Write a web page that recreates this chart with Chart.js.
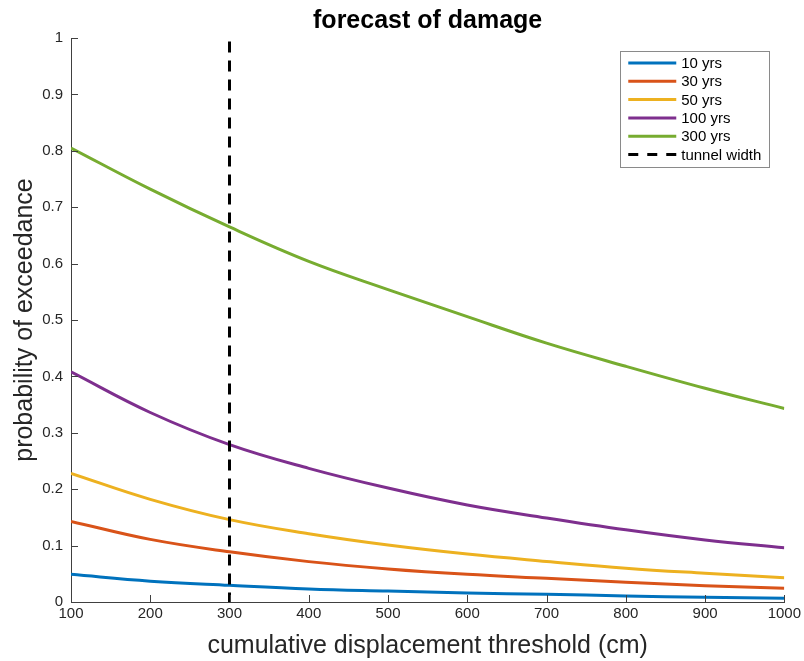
<!DOCTYPE html>
<html lang="en">
<head>
    <meta charset="UTF-8">
    <title>forecast of damage</title>
    <style>
        html, body { margin: 0; padding: 0; background: #fff; }
        #wrap { width: 804px; height: 661px; }
    </style>
</head>
<body>
    <div id="wrap"><canvas id="myChart"></canvas></div>

    <script src="https://cdn.jsdelivr.net/npm/chart.js@4.4.1/dist/chart.umd.min.js"></script>
    <script>
        // cumulative displacement threshold (cm)
        const thresholds = [100, 200, 300, 400, 500, 600, 700, 800, 900, 1000]
        // probability of exceedance
        const yrs10  = [0.049, 0.037, 0.0295, 0.023, 0.0193, 0.016, 0.0137, 0.0107, 0.0085, 0.0067]
        const yrs30  = [0.143, 0.111, 0.089, 0.0716, 0.0586, 0.049, 0.042, 0.035, 0.029, 0.0245]
        const yrs50  = [0.228, 0.182, 0.146, 0.121, 0.101, 0.085, 0.072, 0.060, 0.051, 0.043]
        const yrs100 = [0.408, 0.336, 0.279, 0.237, 0.202, 0.172, 0.149, 0.128, 0.110, 0.096]
        const yrs300 = [0.805, 0.732, 0.665, 0.604, 0.554, 0.506, 0.459, 0.418, 0.379, 0.343]
        const seriesNames = ['10 yrs', '30 yrs', '50 yrs', '100 yrs', '300 yrs']
        const seriesColors = ['#0072BD', '#D95319', '#EDB120', '#7E2F8E', '#77AC30']
        const tunnelWidth = 300
        const axisGray = '#404040'
        const textGray = '#262626'

        Chart.defaults.font.family = '"Liberation Sans", Arial, Helvetica, sans-serif'

        const series = [yrs10, yrs30, yrs50, yrs100, yrs300]
        const datasets = series.map((vals, i) => ({
            label: seriesNames[i],
            data: thresholds.map((t, j) => ({ x: t, y: vals[j] })),
            borderColor: seriesColors[i],
            backgroundColor: seriesColors[i],
            borderWidth: 3,
            pointRadius: 0,
            tension: 0.4,
            fill: false
        }))
        datasets.push({
            label: 'tunnel width',
            data: [{ x: tunnelWidth, y: 1 }, { x: tunnelWidth, y: 0 }],
            borderColor: '#000',
            backgroundColor: '#000',
            borderWidth: 3,
            borderDash: [11, 8],
            borderDashOffset: 15.6,
            pointRadius: 0,
            order: -1
        })

        // matlab style ticks pointing into the axes
        const inwardTicks = {
            id: 'inwardTicks',
            afterDatasetsDraw(chart) {
                const { ctx, chartArea, scales: { x, y } } = chart
                ctx.save()
                ctx.strokeStyle = axisGray
                ctx.lineWidth = 1
                ctx.beginPath()
                x.ticks.forEach(t => {
                    const px = Math.round(x.getPixelForValue(t.value)) + 0.5
                    ctx.moveTo(px, chartArea.bottom)
                    ctx.lineTo(px, chartArea.bottom - 7)
                })
                y.ticks.forEach(t => {
                    const py = Math.round(y.getPixelForValue(t.value)) + 0.5
                    ctx.moveTo(chartArea.left, py)
                    ctx.lineTo(chartArea.left + 7, py)
                })
                ctx.stroke()
                ctx.restore()
            }
        }

        // legend box inside the axes, top right
        const boxLegend = {
            id: 'boxLegend',
            afterDraw(chart) {
                const { ctx, chartArea } = chart
                const rowH = 18.3
                const sets = chart.data.datasets
                ctx.save()
                ctx.font = '15px ' + Chart.defaults.font.family
                const textW = Math.max(...sets.map(d => ctx.measureText(d.label).width))
                const w = 8 + 48 + 5 + textW + 8
                const h = 12 + rowH * (sets.length - 1) + 12
                const left = chartArea.right - 15 - w
                const top = chartArea.top + 13
                ctx.fillStyle = '#fff'
                ctx.fillRect(left, top, w, h)
                ctx.strokeStyle = '#8a8a8a'
                ctx.lineWidth = 1
                ctx.strokeRect(Math.round(left) + 0.5, Math.round(top) + 0.5, Math.round(w), Math.round(h))
                sets.forEach((d, i) => {
                    const cy = top + 12 + i * rowH
                    ctx.beginPath()
                    ctx.strokeStyle = d.borderColor
                    ctx.lineWidth = 3
                    ctx.setLineDash(d.borderDash ? [10, 9] : [])
                    ctx.moveTo(left + 8, cy)
                    ctx.lineTo(left + 56, cy)
                    ctx.stroke()
                    ctx.setLineDash([])
                    ctx.fillStyle = '#000'
                    ctx.textBaseline = 'middle'
                    ctx.textAlign = 'left'
                    ctx.fillText(d.label, left + 61, cy + 1)
                })
                ctx.restore()
            }
        }

        const ctx = document.getElementById('myChart').getContext('2d')
        const chart = new Chart(ctx, {
            type: 'line',
            data: { datasets: datasets },
            options: {
                responsive: true,
                maintainAspectRatio: false,
                animation: false,
                layout: { padding: { left: 0, right: 18, top: 0, bottom: 0 } },
                plugins: {
                    legend: { display: false },
                    tooltip: { enabled: false },
                    title: {
                        display: true,
                        text: 'forecast of damage',
                        color: '#000',
                        fullSize: false,
                        font: { size: 25, weight: 'bold' },
                        padding: { top: 6, bottom: 2 }
                    }
                },
                scales: {
                    x: {
                        type: 'linear',
                        min: 100,
                        max: 1000,
                        grid: { display: false, drawTicks: false },
                        border: { display: true, color: axisGray, width: 1 },
                        ticks: {
                            stepSize: 100,
                            autoSkip: false,
                            maxRotation: 0,
                            padding: 3,
                            color: textGray,
                            font: { size: 15 },
                            callback: v => String(v)
                        },
                        title: {
                            display: true,
                            text: 'cumulative displacement threshold (cm)',
                            color: textGray,
                            font: { size: 25 },
                            padding: { top: 0, bottom: 0 }
                        },
                        afterFit: s => { s.height = 59 }
                    },
                    y: {
                        min: 0,
                        max: 1,
                        grid: { display: false, drawTicks: false },
                        border: { display: true, color: axisGray, width: 1 },
                        ticks: {
                            stepSize: 0.1,
                            padding: 8,
                            color: textGray,
                            font: { size: 15 },
                            callback: v => String(Math.round(v * 10) / 10)
                        },
                        title: {
                            display: true,
                            text: 'probability of exceedance',
                            color: textGray,
                            font: { size: 25 },
                            padding: { top: 10, bottom: 0 }
                        },
                        afterFit: s => { s.width = 71 }
                    }
                }
            },
            plugins: [inwardTicks, boxLegend]
        })
    </script>
</body>
</html>
